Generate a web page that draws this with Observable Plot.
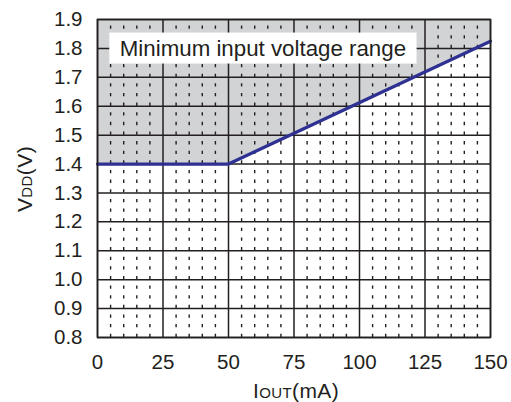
<!DOCTYPE html>
<html>
<head>
<meta charset="utf-8">
<script src="https://cdn.jsdelivr.net/npm/d3@7"></script>
<script src="https://cdn.jsdelivr.net/npm/@observablehq/plot@0.6"></script>
<style>
  html, body { margin: 0; padding: 0; background: #fff; }
  svg { display: block; }
</style>
</head>
<body>
<div id="chart"></div>
<script>
// Data
const ioutPoints = [0, 50, 150];          // mA
const vddPoints = [1.4, 1.4, 1.825];      // V
const xTicks = [0, 25, 50, 75, 100, 125, 150];
const yTicks = [0.8, 0.9, 1.0, 1.1, 1.2, 1.3, 1.4, 1.5, 1.6, 1.7, 1.8, 1.9];
const minorX = [5, 10, 15, 20, 30, 35, 40, 45, 55, 60, 65, 70, 80, 85, 90, 95, 105, 110, 115, 120, 130, 135, 140, 145];
const noteText = ["Minimum input voltage range"];
const xLabel = ["I", "OUT", "(mA)"];
const yLabel = ["V", "DD", "(V)"];

const boundary = ioutPoints.map((x, i) => ({x, v: vddPoints[i]}));
const ink = "#231f20";
const font = "'Liberation Sans', Arial, sans-serif";

const yMin = yTicks[0], yMax = yTicks[yTicks.length - 1];

const plot = Plot.plot({
  width: 511,
  height: 402,
  marginLeft: 97,
  marginRight: 21,
  marginTop: 19,
  marginBottom: 65,
  style: {fontFamily: font, fontSize: "20.5px", color: ink, background: "#fff"},
  x: {domain: [0, 150], ticks: xTicks, tickSize: 0, tickPadding: 17, label: null, tickFormat: d => String(d)},
  y: {domain: [yMin, yMax], ticks: yTicks, tickSize: 0, tickPadding: 15, label: null, tickFormat: d3.format(".1f")},
  marks: [
    Plot.areaY(boundary, {x: "x", y1: "v", y2: () => yMax, fill: "#d1d3d4"}),
    Plot.ruleX(minorX, {y1: yMin, y2: yMax, stroke: ink, strokeWidth: 1.4, strokeDasharray: "3.3,6.33", strokeOpacity: 1}),
    Plot.ruleY(yTicks, {stroke: ink, strokeWidth: 1.5, strokeOpacity: 1}),
    Plot.ruleX(xTicks, {stroke: ink, strokeWidth: 1.5, strokeOpacity: 1}),
    Plot.text(noteText, {x: 8.5, y: 1.8, text: d => d, textAnchor: "start", fontSize: 22.3, fill: ink}),
    Plot.line(boundary, {x: "x", y: "v", stroke: "#2e3192", strokeWidth: 3.2}),
    Plot.frame({stroke: ink, strokeWidth: 1.6})
  ]
});

document.getElementById("chart").appendChild(plot);

const svg = d3.select(plot);
// white box behind the note text (in svg coordinates)
const svgRect = plot.getBoundingClientRect();
svg.selectAll("text").filter(function() { return this.textContent === noteText[0]; }).each(function() {
  const b = this.getBoundingClientRect();
  const group = this.parentNode;
  const rect = document.createElementNS("http://www.w3.org/2000/svg", "rect");
  rect.setAttribute("x", b.left - svgRect.left - 10.5);
  rect.setAttribute("y", (b.top + b.bottom) / 2 - svgRect.top - 15.5);
  rect.setAttribute("width", b.width + 21);
  rect.setAttribute("height", 31);
  rect.setAttribute("fill", "#fff");
  group.parentNode.insertBefore(rect, group);
});

// axis labels with subscripts
const xl = svg.append("text")
  .attr("x", 296).attr("y", 397.5)
  .attr("text-anchor", "middle")
  .attr("font-family", font).attr("font-size", 21).attr("letter-spacing", 0.4).attr("fill", ink);
xl.append("tspan").text(xLabel[0]);
xl.append("tspan").attr("font-size", 15).text(xLabel[1]);
xl.append("tspan").text(xLabel[2]);

const yl = svg.append("text")
  .attr("transform", "translate(31.5,179) rotate(-90)")
  .attr("text-anchor", "middle")
  .attr("font-family", font).attr("font-size", 21).attr("letter-spacing", 0.4).attr("fill", ink);
yl.append("tspan").text(yLabel[0]);
yl.append("tspan").attr("font-size", 15).text(yLabel[1]);
yl.append("tspan").text(yLabel[2]);
</script>
</body>
</html>
